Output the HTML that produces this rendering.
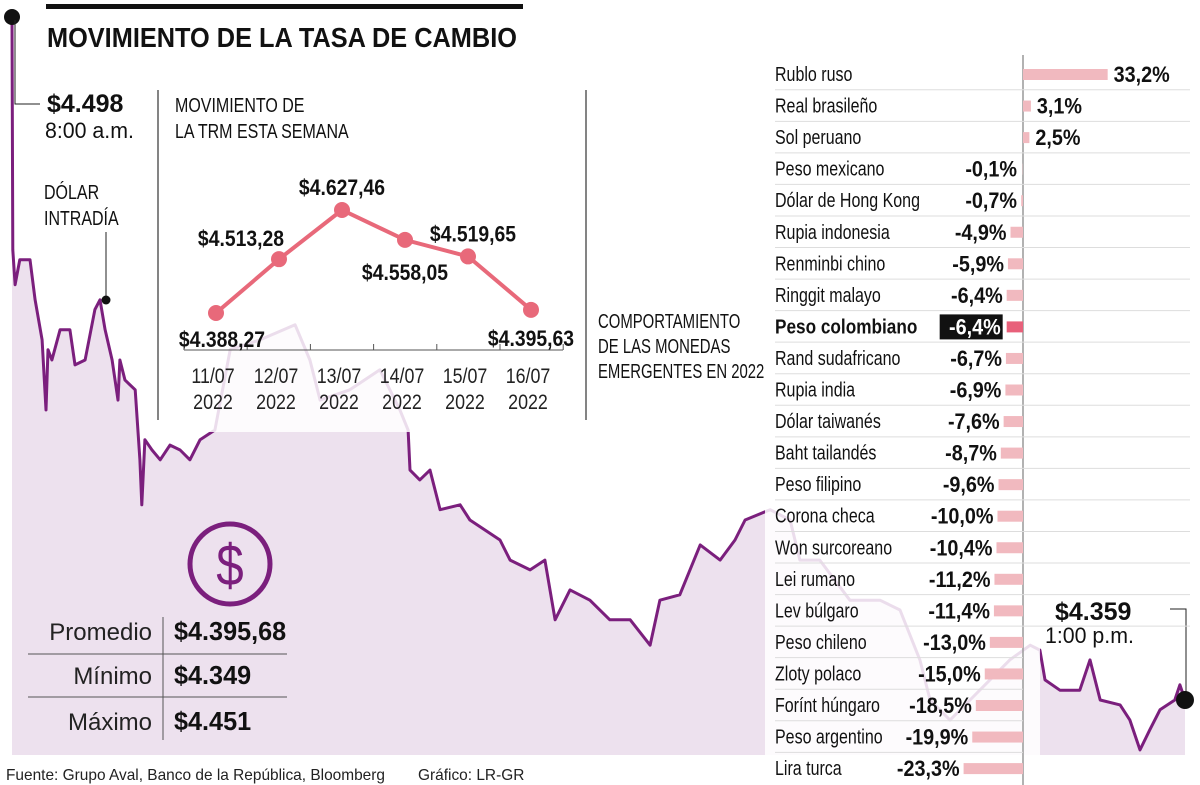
<!DOCTYPE html>
<html><head><meta charset="utf-8"><style>
html,body{margin:0;padding:0;background:#fff;}
svg{display:block;font-family:"Liberation Sans",sans-serif;}
</style></head><body>
<svg id="c" width="1200" height="785" viewBox="0 0 1200 785" xmlns="http://www.w3.org/2000/svg"></svg>
<script>
// intraday series (minutes after 8:00 a.m., COP price)
const intradayMinutes=[0,0.2,0.8,2.0,4.6,5.9,7.7,8.7,9.2,10.2,12.3,14.8,16.1,18.7,21.2,22.5,23.8,25.6,27.1,27.6,28.9,31.5,32.7,33.2,34.0,35.8,37.9,40.4,43.0,45.5,48.1,51.9,55.8,63.4,72.4,76.2,78.8,86.4,94.1,99.2,101.3,101.8,104.3,106.9,109.5,114.6,117.1,124.8,127.4,132.5,136.3,138.9,142.7,147.8,152.9,158.1,163.2,165.7,170.8,176.0,181.1,184.9,187.5,193.9,199.0,201.5,206.6,214.3,222.0,227.1,232.2,234.8,239.9,245.0,250.1,255.2,260.4,262.9,264.2,268.0,273.1,275.7,278.3,283.4,285.9,288.5,291.0,293.6,297.4,298.7,300];
const intradayPrices=[4498,4451,4443.9,4449,4449,4440.8,4432.6,4418.3,4430.6,4428.5,4434.7,4434.7,4427.5,4428.5,4438.8,4440.8,4434.7,4428.5,4420.3,4428.5,4424.4,4422.4,4408.1,4398.9,4412.2,4410.1,4408.1,4411.1,4410.1,4408.1,4412.2,4414.2,4430.6,4432.6,4435.7,4428.5,4420.3,4422.4,4426.5,4418.3,4414.2,4406.0,4404.0,4406.0,4397.9,4398.9,4395.8,4391.7,4387.6,4385.6,4387.6,4375.4,4381.5,4379.4,4375.4,4375.4,4370.2,4379.4,4380.5,4390.7,4387.6,4391.7,4395.8,4397.9,4395.8,4387.6,4387.6,4379.4,4379.4,4377.4,4367.2,4359,4354.9,4359,4363.1,4367.2,4370.2,4369.2,4363.1,4361,4361,4367.2,4359,4358,4354.9,4348.8,4352.9,4357,4359,4362.1,4359];
// TRM week
const trmDates=["11/07","12/07","13/07","14/07","15/07","16/07"];
const trmValues=[4388.27,4513.28,4627.46,4558.05,4519.65,4395.63];
const trmLabels=["$4.388,27","$4.513,28","$4.627,46","$4.558,05","$4.519,65","$4.395,63"];
// currencies 2022
const currencies=["Rublo ruso","Real brasileño","Sol peruano","Peso mexicano","Dólar de Hong Kong","Rupia indonesia","Renminbi chino","Ringgit malayo","Peso colombiano","Rand sudafricano","Rupia india","Dólar taiwanés","Baht tailandés","Peso filipino","Corona checa","Won surcoreano","Lei rumano","Lev búlgaro","Peso chileno","Zloty polaco","Forínt húngaro","Peso argentino","Lira turca"];
const changes=[33.2,3.1,2.5,-0.1,-0.7,-4.9,-5.9,-6.4,-6.4,-6.7,-6.9,-7.6,-8.7,-9.6,-10.0,-10.4,-11.2,-11.4,-13.0,-15.0,-18.5,-19.9,-23.3];

const NS="http://www.w3.org/2000/svg";
const svg=document.getElementById('c');
function el(tag,attrs,parent){const e=document.createElementNS(NS,tag);for(const k in attrs)e.setAttribute(k,attrs[k]);(parent||svg).appendChild(e);return e;}
function txt(str,x,y,size,opts){opts=opts||{};const sx=opts.sx||1;
 const t=el('text',{transform:`translate(${x},${y}) scale(${sx},1)`,x:0,y:0,'font-size':size,'font-weight':opts.bold?'bold':'normal','text-anchor':opts.anchor||'start',fill:opts.fill||'#111'},opts.parent);
 t.textContent=str;return t;}

// intraday scales
const ix=m=>12+m*(1185-12)/300;
const iy=v=>700-(v-4359)*4.892;
let d='';intradayMinutes.forEach((m,i)=>{d+=(i?'L':'M')+ix(m).toFixed(1)+','+iy(intradayPrices[i]).toFixed(1);});
const area=el('path',{d:d+`L${ix(300)},755L${ix(0)},755Z`,fill:'#ede1ee'});


const line=el('path',{d:d,fill:'none',stroke:'#7b1f7d','stroke-width':3,'stroke-linejoin':'round'});



// white fade overlays
el('rect',{x:160,y:60,width:430,height:372,fill:'#fff','fill-opacity':0.85,});
el('rect',{x:765,y:55,width:275,height:730,fill:'#fff','fill-opacity':0.85,});
el('rect',{x:1040,y:55,width:160,height:580,fill:'#fff',});
el('rect',{x:0,y:758,width:1200,height:27,fill:'#fff'});

// title
el('rect',{x:46,y:4,width:477,height:5,fill:'#111',});
const ti=txt('MOVIMIENTO DE LA TASA DE CAMBIO',47,47,28,{bold:true,sx:0.905});


// annotations
el('circle',{cx:12,cy:17,r:8,fill:'#111',});
el('polyline',{points:'15,20 15,104 40,104',fill:'none',stroke:'#222','stroke-width':1,});
txt('$4.498',47,112,25,{bold:true,sx:1});
txt('8:00 a.m.',45,138,22,{sx:0.97});
txt('DÓLAR',44,199,20,{sx:0.8});
txt('INTRADÍA',44,225,20,{sx:0.8});
el('line',{x1:106,y1:232,x2:106,y2:300,stroke:'#222','stroke-width':1});
el('circle',{cx:106,cy:300,r:4.5,fill:'#111',});
txt('$4.359',1055,620,25,{bold:true,sx:1});
txt('1:00 p.m.',1045,643,22,{sx:0.97});
el('polyline',{points:'1170,609 1186,609 1186,700',fill:'none',stroke:'#222','stroke-width':1});
el('circle',{cx:1185,cy:700,r:9,fill:'#111',});

// separators
el('line',{x1:158,y1:90,x2:158,y2:420,stroke:'#333','stroke-width':1.2});
el('line',{x1:586,y1:90,x2:586,y2:420,stroke:'#333','stroke-width':1.2});

// TRM panel
txt('MOVIMIENTO DE',175,112,20,{sx:0.8});
txt('LA TRM ESTA SEMANA',175,138,20,{sx:0.8});
const tx=i=>216+i*63;
const ty=v=>313-(v-4388.27)*0.4306;
el('line',{x1:184,y1:350,x2:563,y2:350,stroke:'#555','stroke-width':1});
for(let k=0;k<7;k++)el('line',{x1:184+k*63.2,y1:344,x2:184+k*63.2,y2:350,stroke:'#555','stroke-width':1});
let td='';trmValues.forEach((v,i)=>{td+=(i?'L':'M')+tx(i)+','+ty(v).toFixed(1);});
const tl=el('path',{d:td,fill:'none',stroke:'#e8697a','stroke-width':4});

const lblOff=[[6,27],[-38,-20],[0,-22],[0,33],[5,-22],[0,29]];
trmValues.forEach((v,i)=>{
 const c=el('circle',{cx:tx(i),cy:ty(v),r:8,fill:'#e8697a'});
 
 
 txt(trmLabels[i],tx(i)+lblOff[i][0],ty(v)+lblOff[i][1]+7,22,{bold:true,sx:0.88,anchor:'middle'});
 txt(trmDates[i],tx(i)-3,383,21,{sx:0.85,anchor:'middle',fill:'#222'});
 txt('2022',tx(i)-3,409,21,{sx:0.85,anchor:'middle',fill:'#222'});
});

// section label
txt('COMPORTAMIENTO',598,328,20,{sx:0.745});
txt('DE LAS MONEDAS',598,353,20,{sx:0.745});
txt('EMERGENTES EN 2022',598,378,20,{sx:0.745});

// bars
const zero=1023, k=2.55, rowH=31.55, row0=74;
el('line',{x1:zero,y1:55,x2:zero,y2:785,stroke:'#999','stroke-width':1.5,});
currencies.forEach((name,i)=>{
 const cy=row0+i*rowH, v=changes[i];
 if(i<currencies.length-1){
  const ly=cy+rowH/2;
  el('line',{x1:775,y1:ly,x2:zero,y2:ly,stroke:'#ddd','stroke-width':1});
  if(ly<635)el('line',{x1:zero,y1:ly,x2:1190,y2:ly,stroke:'#ddd','stroke-width':1});
 }
 const hl=name==='Peso colombiano';
 const nm=txt(name,775,cy+7,20,{sx:hl?0.86:0.8,bold:hl});
 
 const w=Math.abs(v)*k, x0=v<0?zero-w:zero;
 const b=el('rect',{x:x0,y:cy-5,width:w,height:11,fill:hl?'#e8607a':'#f1b9bf'});
 
 
 const lab=(v>0?'':'-')+Math.abs(v).toFixed(1).replace('.',',')+'%';
 if(v>0){txt(lab,zero+w+6,cy+8,22,{bold:true,sx:0.9});}
 else{
  const ex=Math.min(x0-4,1017);
  if(hl){el('rect',{x:ex-63,y:cy-12,width:63,height:25,fill:'#111'});txt(lab,ex-2,cy+8,22,{bold:true,sx:0.9,anchor:'end',fill:'#fff'});}
  else txt(lab,ex,cy+8,22,{bold:true,sx:0.9,anchor:'end'});
 }
});

// dollar icon
el('circle',{cx:230,cy:564,r:40,fill:'none',stroke:'#7b1f7d','stroke-width':5,});
txt('$',230,585,58,{fill:'#7b1f7d',anchor:'middle',sx:0.85});

// stats
el('line',{x1:163,y1:617,x2:163,y2:740,stroke:'#555','stroke-width':1});
el('line',{x1:28,y1:654,x2:287,y2:654,stroke:'#555','stroke-width':1});
el('line',{x1:28,y1:697,x2:287,y2:697,stroke:'#555','stroke-width':1});
[['Promedio','$4.395,68',640],['Mínimo','$4.349',684],['Máximo','$4.451',730]].forEach(r=>{
 txt(r[0],152,r[2],24,{anchor:'end',sx:1.0,fill:'#222'});
 const v=txt(r[1],174,r[2],26,{bold:true,sx:0.97});
 
});

// footer
txt('Fuente: Grupo Aval, Banco de la República, Bloomberg',6,780,16,{sx:0.965,fill:'#222'});
txt('Gráfico: LR-GR',418,780,16,{sx:0.965,fill:'#222'});
</script>
</body></html>
